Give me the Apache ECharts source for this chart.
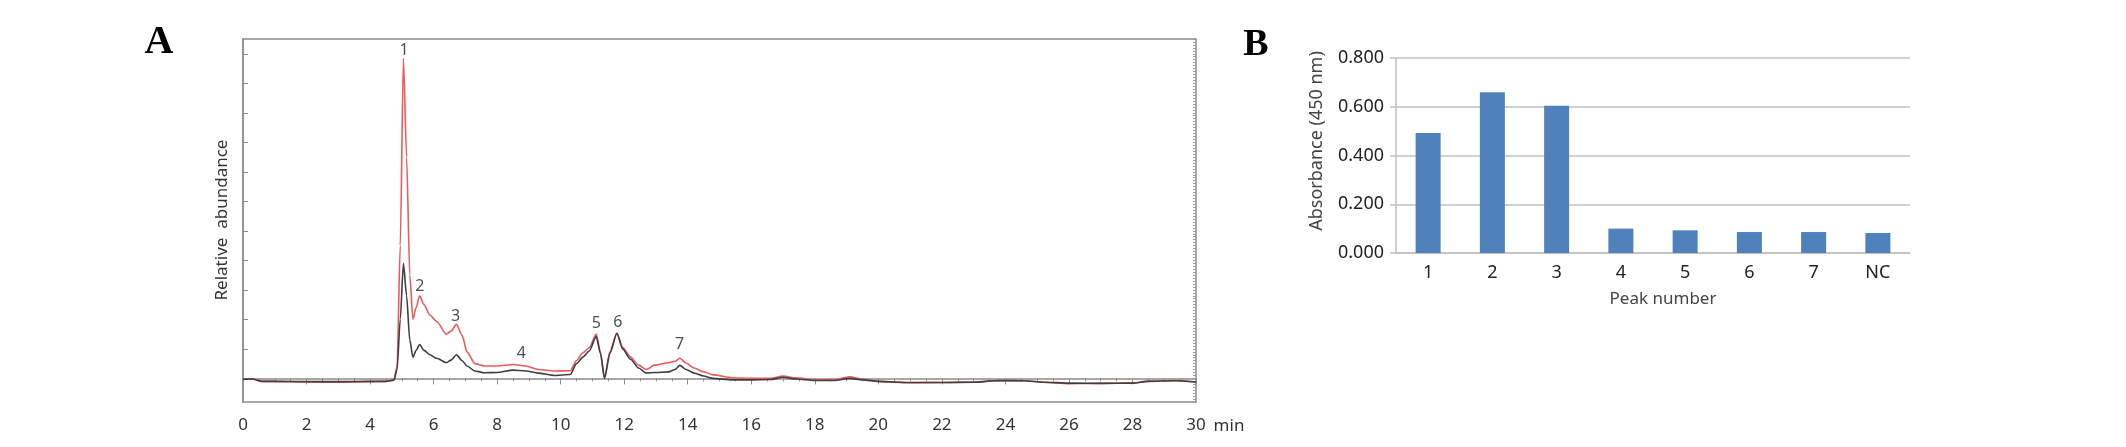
<!DOCTYPE html>
<html>
<head>
<meta charset="utf-8">
<script src="https://cdn.jsdelivr.net/npm/echarts@6/dist/echarts.min.js"></script>
<style>
  html, body { margin: 0; padding: 0; background: #fff; }
  #chart { width: 2126px; height: 447px; }
</style>
</head>
<body>
<div id="chart"></div>
<script>
// Panel A: chromatogram (retention time in min, relative abundance in arbitrary units)
const retentionTimes = [0, 0.3, 0.6, 1, 2, 3, 4, 4.5, 4.75, 4.85, 4.95, 5.05, 5.15, 5.25, 5.35, 5.45, 5.56, 5.7, 5.88, 6.1,
  6.4, 6.55, 6.72, 6.9, 7.05, 7.3, 7.6, 8.0, 8.5, 8.9, 9.3, 9.8, 10.3, 10.5, 10.7, 10.9, 11.12, 11.25, 11.38, 11.55,
  11.77, 11.95, 12.2, 12.45, 12.7, 12.95, 13.4, 13.6, 13.75, 13.95, 14.2, 14.5, 14.8, 15.4, 16.0, 16.6, 17.0, 17.4, 18.0, 18.6,
  19.1, 19.5, 20.0, 21.0, 22.0, 23.0, 23.8, 24.6, 25.2, 26.0, 27.0, 28.0, 28.5, 29.3, 30];
const redTrace = [-0.03, -0.02, -0.1, -0.1, -0.12, -0.13, -0.11, -0.1, -0.05, 0.4, 4.5, 10.85, 7.5, 3.5, 2.0, 2.4, 2.8, 2.5, 2.15, 1.93,
  1.5, 1.6, 1.83, 1.45, 0.9, 0.5, 0.42, 0.42, 0.47, 0.42, 0.3, 0.25, 0.26, 0.6, 0.87, 1.04, 1.5, 0.9, 0.02, 0.9,
  1.53, 1.05, 0.72, 0.45, 0.3, 0.45, 0.53, 0.58, 0.68, 0.52, 0.35, 0.22, 0.12, 0.02, 0.0, 0.0, 0.08, 0.02, -0.05, -0.05,
  0.05, -0.03, -0.1, -0.15, -0.14, -0.12, -0.07, -0.08, -0.13, -0.18, -0.17, -0.16, -0.09, -0.07, -0.12];
const blackTrace = [-0.03, -0.02, -0.1, -0.1, -0.11, -0.11, -0.1, -0.1, -0.06, 0.3, 2.0, 3.9, 2.8, 1.3, 0.72, 0.95, 1.15, 0.95, 0.8, 0.68,
  0.53, 0.62, 0.8, 0.6, 0.42, 0.25, 0.19, 0.2, 0.28, 0.25, 0.18, 0.1, 0.13, 0.5, 0.72, 0.93, 1.42, 0.85, 0.0, 0.85,
  1.53, 1.0, 0.65, 0.35, 0.18, 0.2, 0.22, 0.3, 0.44, 0.3, 0.18, 0.08, 0.0, -0.05, -0.05, -0.04, 0.04, -0.02, -0.07, -0.07,
  0.0, -0.05, -0.1, -0.14, -0.14, -0.13, -0.07, -0.08, -0.13, -0.16, -0.17, -0.16, -0.1, -0.08, -0.12];

// peak annotations
const peakNames = ['1', '2', '3', '4', '5', '6', '7'];
const peakTimes = [5.07, 5.57, 6.69, 8.76, 11.12, 11.8, 13.74];
const peakLabelLevels = [11.1, 3.13, 2.11, 0.85, 1.86, 1.89, 1.15];
const abundanceTicks = [0, 1, 2, 3, 4, 5, 6, 7, 8, 9, 10, 11];

// Panel B: absorbance per collected peak
const peakCategories = ['1', '2', '3', '4', '5', '6', '7', 'NC'];
const absorbance = [0.492, 0.660, 0.604, 0.100, 0.093, 0.086, 0.086, 0.082];

const chart = echarts.init(document.getElementById('chart'));

const gray = '#8c8c8c';
const lightGray = '#c0c0c0';
const font = 'Noto Sans';

const toPairs = (xs, ys) => xs.map((x, i) => [x, ys[i]]);

chart.setOption({
  animation: false,
  backgroundColor: '#fff',
  grid: [
    { left: 243, top: 39, width: 953, height: 363, show: true, borderColor: gray, borderWidth: 1.5 },
    { left: 1396, top: 58, width: 514, height: 195 }
  ],
  xAxis: [
    {
      gridIndex: 0,
      type: 'value',
      min: 0,
      max: 30,
      interval: 2,
      axisLine: { lineStyle: { color: gray, width: 1.5 } },
      axisTick: { length: 6, lineStyle: { color: gray } },
      minorTick: { show: true, splitNumber: 4, length: 3, lineStyle: { color: gray } },
      axisLabel: { margin: 15, fontSize: 17, fontFamily: font, color: '#333' },
      splitLine: { show: false }
    },
    {
      gridIndex: 1,
      type: 'category',
      data: peakCategories,
      axisLine: { lineStyle: { color: lightGray, width: 1.5 } },
      axisTick: { length: 6, lineStyle: { color: lightGray, width: 1.5 } },
      axisLabel: { margin: 11, fontSize: 18, fontFamily: font, color: '#222' }
    }
  ],
  yAxis: [
    {
      gridIndex: 0,
      type: 'value',
      min: -0.8,
      max: 11.5,
      axisLine: { show: true, lineStyle: { color: gray, width: 1.5 } },
      axisTick: { show: true, inside: true, length: 5, customValues: abundanceTicks, lineStyle: { color: gray } },
      axisLabel: { show: false },
      splitLine: { show: false }
    },
    {
      // fine ticks on the abundance axis
      gridIndex: 0,
      type: 'value',
      min: -0.8,
      max: 11.5,
      interval: 0.1,
      axisLine: { show: false },
      axisTick: { show: true, inside: true, length: 3, lineStyle: { color: '#9a9a9a' } },
      axisLabel: { show: false },
      splitLine: { show: false }
    },
    {
      gridIndex: 1,
      type: 'value',
      min: 0,
      max: 0.8,
      interval: 0.2,
      axisLine: { show: true, lineStyle: { color: lightGray, width: 1.5 } },
      axisTick: { show: true, length: 6, lineStyle: { color: lightGray, width: 1.5 } },
      axisLabel: { margin: 12, fontSize: 18, fontFamily: font, color: '#222', formatter: v => v.toFixed(3) },
      splitLine: { lineStyle: { color: lightGray, width: 1.5 } }
    }
  ],
  series: [
    {
      name: 'Red trace',
      type: 'line',
      xAxisIndex: 0,
      yAxisIndex: 0,
      data: toPairs(retentionTimes, redTrace),
      showSymbol: false,
      smooth: 0.25,
      smoothMonotone: 'x',
      lineStyle: { color: '#f0585c', width: 1.6 },
      z: 2
    },
    {
      name: 'Black trace',
      type: 'line',
      xAxisIndex: 0,
      yAxisIndex: 0,
      data: toPairs(retentionTimes, blackTrace),
      showSymbol: false,
      smooth: 0.25,
      smoothMonotone: 'x',
      lineStyle: { color: '#3f3f3f', width: 1.6 },
      z: 3
    },
    {
      name: 'Peaks',
      type: 'scatter',
      xAxisIndex: 0,
      yAxisIndex: 0,
      data: peakTimes.map((t, i) => ({ value: [t, peakLabelLevels[i]], name: peakNames[i] })),
      symbolSize: 0,
      silent: true,
      label: {
        show: true,
        position: 'inside',
        formatter: p => p.name,
        fontSize: 16,
        fontFamily: font,
        color: '#222'
      },
      z: 4
    },
    {
      name: 'Absorbance',
      type: 'bar',
      xAxisIndex: 1,
      yAxisIndex: 2,
      data: absorbance,
      barWidth: 25,
      itemStyle: { color: '#4f81bd' }
    }
  ],
  graphic: [
    { type: 'text', x: 159, y: 43, style: { text: 'A', font: 'bold 40px "Liberation Serif"', fill: '#000', textAlign: 'center', textVerticalAlign: 'middle' } },
    { type: 'text', x: 1256, y: 45, style: { text: 'B', font: 'bold 38px "Liberation Serif"', fill: '#000', textAlign: 'center', textVerticalAlign: 'middle' } },
    { type: 'text', x: 1229, y: 426, style: { text: 'min', font: '17px "Noto Sans"', fill: '#333', textAlign: 'center', textVerticalAlign: 'middle' } },
    { type: 'text', x: 222, y: 220, rotation: Math.PI / 2, style: { text: 'Relative  abundance', font: '17px "Noto Sans"', fill: '#333', textAlign: 'center', textVerticalAlign: 'middle' } },
    { type: 'text', x: 1317, y: 141, rotation: Math.PI / 2, style: { text: 'Absorbance (450 nm)', font: '18px "Noto Sans"', fill: '#444', textAlign: 'center', textVerticalAlign: 'middle' } },
    { type: 'text', x: 1663, y: 299, style: { text: 'Peak number', font: '17px "Noto Sans"', fill: '#444', textAlign: 'center', textVerticalAlign: 'middle' } }
  ]
});
</script>
</body>
</html>
